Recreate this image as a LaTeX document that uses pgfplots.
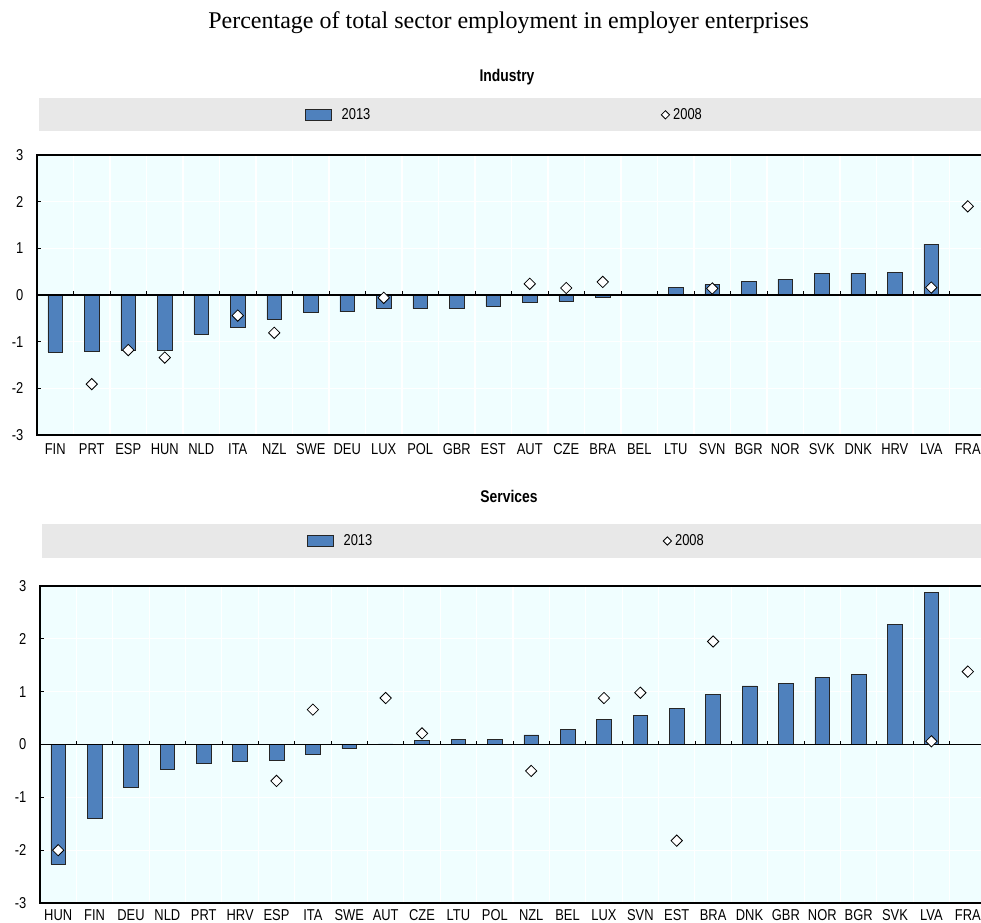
\documentclass[border=0pt]{standalone}
\usepackage{pgfplots}
\pgfplotsset{compat=1.18}
\usepackage{fontspec}
\setmainfont{Liberation Serif}
\newfontfamily\narrowsans{Liberation Sans}[FakeStretch=0.82]

\definecolor{barblue}{HTML}{4F81BD}
\definecolor{plotbg}{HTML}{F0FEFF}
\definecolor{legendgray}{HTML}{E8E8E8}

\newcommand\lblfont{\narrowsans\fontsize{11.8}{14}\selectfont}
\tikzset{zeroline/.style={line width=1.1pt}}

\pgfplotsset{
  panel/.style={
    scale only axis,
    anchor=south west,
    xmin=-0.5, xmax=25.5,
    ymin=-3, ymax=3,
    ytick={-3,...,3},
    xtick={0,...,25},
    minor xtick={0.5,1.5,...,24.5},
    ymajorgrids=true, xminorgrids=true,
    major grid style={white, line width=0.8pt},
    minor grid style={white, line width=0.8pt},
    axis background/.style={fill=plotbg},
    axis line style={line width=1.1pt},
    tick align=inside,
    major tick length=3pt,
    minor tick length=0pt,
    xtick style={draw=none},
    ytick style={black, line width=0.6pt},
    tick label style={font=\lblfont},
    /pgf/number format/assume math mode=true,
    yticklabel style={inner xsep=0pt, xshift=-10pt},
    xticklabel style={inner ysep=0pt, yshift=-6pt},
    legend style={draw=none, fill=none, inner sep=0pt, outer sep=0pt,
      anchor=west, legend columns=2, font=\lblfont,
      nodes={inner ysep=0pt},
      /tikz/every even column/.append style={column sep=210.6pt}},
    legend cell align=left,
  },
  bars2013/.style={ybar, bar width=11pt, bar shift=0pt, fill=barblue,
    draw=black!85, line width=0.5pt,
    legend image code/.code={\draw[fill=barblue, draw=black!85, line width=0.5pt]
      (0pt,-4.1pt) rectangle (19.5pt,4.1pt);}},
  marks2008/.style={only marks, mark=square*, mark size=3pt,
    mark options={rotate=45, fill=white, draw=black, line width=0.6pt},
    legend image code/.code={\path (0pt,0pt) (6pt,0pt);
      \draw[##1, mark size=2.2pt] plot coordinates {(3pt,0pt)};}},
}

\begin{document}
\begin{tikzpicture}
% headings and legend bands
\node[font=\fontsize{18}{21}\selectfont] at (381.4pt, 674.25pt) {Percentage of total sector employment in employer enterprises};
\node[font=\narrowsans\bfseries\fontsize{12.7}{15}\selectfont] at (380.25pt, 633.75pt) {Industry};
\node[font=\narrowsans\bfseries\fontsize{12.7}{15}\selectfont] at (381.75pt, 319.5pt) {Services};
\fill[legendgray] (29.25pt, 593.25pt) rectangle (742.5pt, 618pt);
\fill[legendgray] (31.5pt, 273pt) rectangle (742.5pt, 298.5pt);

% Industry
\begin{axis}[panel, at={(27.75pt,365.25pt)}, width=711.75pt, height=210pt,
  xticklabels={FIN,PRT,ESP,HUN,NLD,ITA,NZL,SWE,DEU,LUX,POL,GBR,EST,AUT,CZE,BRA,BEL,LTU,SVN,BGR,NOR,SVK,DNK,HRV,LVA,FRA},
  legend style={at={(0.2824,1.1436)}}]
\addplot[bars2013] coordinates {
  (0,-1.22) (1,-1.21) (2,-1.19) (3,-1.18) (4,-0.84) (5,-0.70) (6,-0.52)
  (7,-0.38) (8,-0.36) (9,-0.29) (10,-0.29) (11,-0.29) (12,-0.24) (13,-0.16)
  (14,-0.13) (15,-0.04) (17,0.17) (18,0.22) (19,0.29) (20,0.34) (21,0.46)
  (22,0.46) (23,0.48) (24,1.09)};
\addlegendentry[inner xsep=7.5pt]{2013}
\draw[zeroline] (axis cs:-0.5,0) -- (axis cs:25.5,0);
\pgfplotsinvokeforeach{0.5,1.5,...,24.5}{\draw[line width=0.6pt] (axis cs:#1,0) -- ([yshift=3pt]axis cs:#1,0);}
\addplot[marks2008] coordinates {
  (1,-1.91) (2,-1.18) (3,-1.34) (5,-0.44) (6,-0.81) (9,-0.06) (13,0.24)
  (14,0.15) (15,0.28) (18,0.14) (24,0.16) (25,1.90)};
\addlegendentry[inner xsep=2.6pt]{2008}
\end{axis}

% Services
\begin{axis}[panel, at={(30pt,14.25pt)}, width=709.5pt, height=237.75pt,
  xticklabels={HUN,FIN,DEU,NLD,PRT,HRV,ESP,ITA,SWE,AUT,CZE,LTU,POL,NZL,BEL,LUX,SVN,EST,BRA,DNK,GBR,NOR,BGR,SVK,LVA,FRA},
  xticklabel style={yshift=1.5pt},
  legend style={at={(0.2822,1.142)}}]
\addplot[bars2013] coordinates {
  (0,-2.26) (1,-1.40) (2,-0.81) (3,-0.47) (4,-0.35) (5,-0.32) (6,-0.30)
  (7,-0.19) (8,-0.08) (9,0.01) (10,0.08) (11,0.09) (12,0.09) (13,0.18)
  (14,0.28) (15,0.48) (16,0.55) (17,0.68) (18,0.95) (19,1.11) (20,1.15)
  (21,1.27) (22,1.33) (23,2.27) (24,2.88)};
\addlegendentry[inner xsep=7.5pt]{2013}
\draw[zeroline] (axis cs:-0.5,0) -- (axis cs:25.5,0);
\pgfplotsinvokeforeach{0.5,1.5,...,24.5}{\draw[line width=0.6pt] (axis cs:#1,0) -- ([yshift=3pt]axis cs:#1,0);}
\addplot[marks2008] coordinates {
  (0,-2.00) (6,-0.69) (7,0.66) (9,0.88) (10,0.21) (13,-0.50) (15,0.88)
  (16,0.98) (17,-1.82) (18,1.95) (24,0.06) (25,1.38)};
\addlegendentry[inner xsep=2.6pt]{2008}
\end{axis}

\pgfresetboundingbox
\path[use as bounding box] (0pt,0pt) rectangle (735.75pt,691.5pt);
\end{tikzpicture}
\end{document}
